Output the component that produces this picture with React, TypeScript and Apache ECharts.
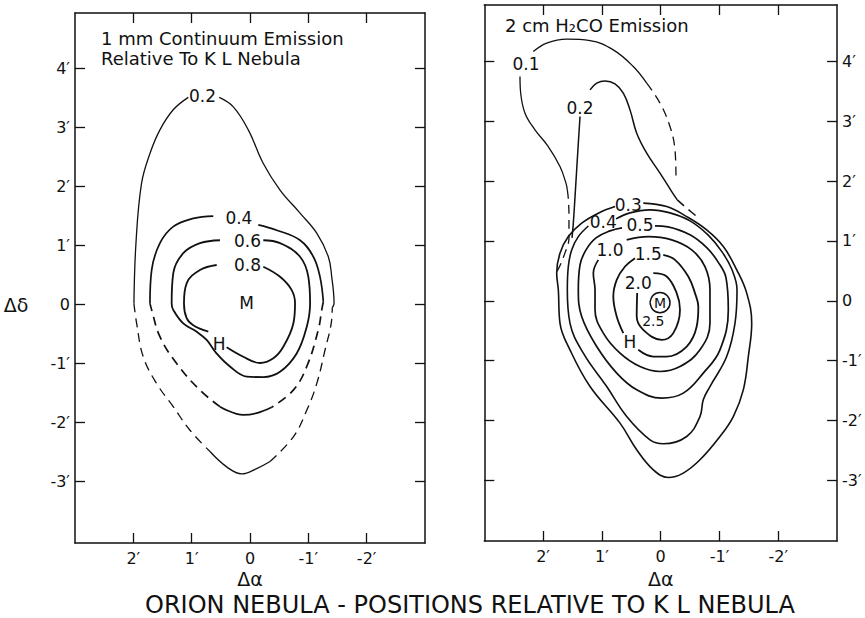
import React, { useEffect, useRef } from "react";
import * as echarts from "echarts";

// ---------- axis ticks ----------
const xTicks = [-2, -1, 0, 1, 2];
const yTicks = [-3, -2, -1, 0, 1, 2, 3, 4];

// ---------- LEFT PANEL: 1 mm continuum contours (arcmin offsets) ----------
const L02_topA = [[1.99, 0.02], [1.955, 1.04], [1.86, 2.05], [1.715, 2.56], [1.544, 2.96], [1.316, 3.3], [1.058, 3.51]];
const L02_topB = [[0.527, 3.51], [0.286, 3.35], [0.029, 2.96], [-0.228, 2.39], [-0.515, 1.94], [-0.858, 1.55], [-1.144, 1.21], [-1.343, 0.81], [-1.401, 0.47], [-1.441, 0.02], [-1.41, -0.05]];
const L02_dashL = [[1.99, 0.02], [1.943, -0.32], [1.83, -0.885], [1.6, -1.34], [1.316, -1.73], [1.029, -2.13], [0.686, -2.49]];
const L02_bottom = [[0.686, -2.49], [0.4, -2.75], [0.142, -2.87], [-0.115, -2.78], [-0.343, -2.66]];
const L02_dashR = [[-0.343, -2.66], [-0.743, -2.24], [-0.973, -1.79], [-1.144, -1.34], [-1.286, -0.77], [-1.4, -0.26], [-1.41, -0.05]];

const L04_topA = [[1.715, 0.02], [1.686, 0.585], [1.544, 1.04], [1.316, 1.32], [0.973, 1.46], [0.63, 1.5]];
const L04_topB = [[-0.142, 1.35], [-0.458, 1.26], [-0.858, 1.09], [-1.086, 0.81], [-1.2, 0.47], [-1.257, 0.05]];
const L04_dashR = [[-1.257, 0.05], [-1.23, -0.09], [-1.17, -0.43], [-0.973, -1.05], [-0.743, -1.45], [-0.372, -1.74]];
const L04_bottom = [[-0.372, -1.74], [-0.115, -1.84], [0.115, -1.87], [0.515, -1.73]];
const L04_dashL = [[0.515, -1.73], [0.858, -1.45], [1.257, -1.0], [1.544, -0.545], [1.686, -0.09], [1.715, 0.02]];

const L06 = [[-0.228, 1.09], [-0.515, 1.04], [-0.858, 0.81], [-1.0, 0.47], [-1.03, 0.02], [-0.973, -0.375], [-0.8, -0.83], [-0.515, -1.14], [-0.228, -1.23], [0.057, -1.22], [0.343, -1.05], [0.571, -0.83], [0.743, -0.6], [0.914, -0.46], [1.144, -0.32], [1.316, -0.09], [1.343, 0.02], [1.316, 0.53], [1.144, 0.87], [0.858, 1.04], [0.515, 1.09]];

const L08a = [[0.4, -0.725], [0.115, -0.885], [-0.172, -0.99], [-0.4, -0.91], [-0.571, -0.715], [-0.743, -0.32], [-0.772, 0.02], [-0.715, 0.245], [-0.515, 0.47], [-0.228, 0.64]];
const L08b = [[0.571, 0.67], [0.858, 0.585], [1.086, 0.36], [1.132, 0.02], [1.086, -0.23], [0.973, -0.35], [0.715, -0.46]];

const leftLabels: [number, number, string][] = [
  [0.815, 3.53, "0.2"],
  [0.19, 1.46, "0.4"],
  [0.043, 1.08, "0.6"],
  [0.043, 0.67, "0.8"],
  [0.057, 0.03, "M"],
  [0.527, -0.66, "H"],
];

// ---------- RIGHT PANEL: 2 cm H2CO contours ----------
const R01_arc = [[2.167, 4.162], [1.939, 4.302], [1.599, 4.369], [1.202, 4.346], [0.806, 4.19], [0.466, 3.912], [0.238, 3.634]];
const R01_arcDash = [[0.238, 3.634], [0.012, 3.301], [-0.158, 2.91], [-0.243, 2.521], [-0.26, 2.075]];
const R01_left = [[2.393, 3.745], [2.381, 3.467], [2.308, 3.134], [2.138, 2.855], [1.912, 2.576], [1.713, 2.242], [1.611, 1.965], [1.588, 1.853]];
const R01_leftDash = [[1.588, 1.853], [1.571, 1.703], [1.56, 1.402], [1.56, 1.052], [1.628, 0.801], [1.747, 0.518], [1.798, 0.462]];

const R02_left = [[1.372, 3.077], [1.401, 2.633], [1.429, 2.187], [1.457, 1.741], [1.486, 1.297], [1.508, 1.052]];
const R02_arc = [[1.202, 3.523], [1.088, 3.634], [0.947, 3.673], [0.777, 3.623], [0.636, 3.467], [0.522, 3.189], [0.408, 2.8], [0.238, 2.466], [0.012, 2.132], [-0.187, 1.825], [-0.282, 1.686]];
const R02_arcDash = [[-0.282, 1.686], [-0.442, 1.548], [-0.668, 1.364]];

const R03 = [[0.296, 1.631], [-0.102, 1.574], [-0.442, 1.407], [-0.782, 1.185], [-1.065, 0.907], [-1.293, 0.518], [-1.463, 0.129], [-1.548, -0.372], [-1.49, -0.93], [-1.405, -1.486], [-1.235, -1.932], [-1.008, -2.265], [-0.668, -2.654], [-0.384, -2.876], [-0.129, -2.95], [0.126, -2.821], [0.408, -2.487], [0.692, -2.042], [1.202, -1.431], [1.543, -0.818], [1.713, -0.372], [1.741, 0.184], [1.769, 0.462], [1.713, 0.796], [1.571, 1.073], [1.344, 1.297], [1.061, 1.464], [0.777, 1.574]];

const R04 = [[0.76, 1.369], [0.522, 1.469], [0.182, 1.519], [-0.158, 1.469], [-0.498, 1.336], [-0.804, 1.102], [-1.043, 0.818], [-1.213, 0.518], [-1.298, 0.184], [-1.264, -0.372], [-1.122, -0.93], [-0.838, -1.431], [-0.724, -1.653], [-0.668, -1.932], [-0.442, -2.265], [-0.044, -2.387], [0.182, -2.321], [0.578, -1.932], [0.918, -1.431], [1.316, -0.873], [1.543, -0.372], [1.588, 0.184], [1.571, 0.573], [1.514, 0.851], [1.401, 1.073], [1.23, 1.25]];

const R05 = [[0.097, 1.252], [-0.124, 1.235], [-0.498, 1.102], [-0.787, 0.885], [-0.974, 0.651], [-1.111, 0.384], [-1.15, -0.15], [-1.008, -0.818], [-0.724, -1.207], [-0.384, -1.541], [-0.017, -1.624], [0.408, -1.486], [0.748, -1.207], [1.088, -0.763], [1.344, -0.262], [1.401, 0.184], [1.372, 0.601], [1.27, 0.851], [1.1, 1.052], [0.862, 1.169], [0.658, 1.219]];

const R10 = [[0.578, 1.018], [0.211, 1.073], [-0.187, 1.018], [-0.527, 0.851], [-0.753, 0.573], [-0.838, 0.184], [-0.838, -0.372], [-0.668, -0.818], [-0.328, -1.097], [0.012, -1.18], [0.352, -1.097], [0.692, -0.873], [0.976, -0.539], [1.117, -0.15], [1.117, 0.184], [1.146, 0.462], [1.061, 0.684]];

const R15a = [[-0.044, 0.768], [-0.243, 0.684], [-0.469, 0.406], [-0.583, 0.129], [-0.64, -0.1], [-0.612, -0.429], [-0.442, -0.763], [-0.102, -0.93], [0.126, -0.93], [0.381, -0.818]];
const R15b = [[0.636, -0.539], [0.748, -0.262], [0.806, 0.072], [0.748, 0.351], [0.607, 0.573], [0.437, 0.713]];

const R20 = [[0.126, 0.462], [-0.102, 0.406], [-0.272, 0.129], [-0.328, -0.15], [-0.214, -0.539], [-0.017, -0.651], [0.296, -0.484], [0.408, -0.262], [0.4, 0.13]];

const R25 = [[0.182, -0.03], [0.132, 0.09], [0.012, 0.14], [-0.108, 0.09], [-0.158, -0.03], [-0.108, -0.15], [0.012, -0.2], [0.132, -0.15], [0.182, -0.03]];

const rightLabels: [number, number, string][] = [
  [2.29, 3.957, "0.1"],
  [1.372, 3.217, "0.2"],
  [0.551, 1.603, "0.3"],
  [0.976, 1.324, "0.4"],
  [0.352, 1.269, "0.5"],
  [0.862, 0.851, "1.0"],
  [0.211, 0.785, "1.5"],
  [0.381, 0.295, "2.0"],
  [0.522, -0.679, "H"],
];
// small labels at the peak (inside / under the 2.5 ring)
const rightPeakLabels: [number, number, string][] = [
  [0.012, -0.03, "M"],
  [0.126, -0.33, "2.5"],
];

// ---------- texts ----------
const FONT = "'DejaVu Sans', sans-serif";
const INK = "#111111";
const leftTitle = ["1 mm Continuum Emission", "Relative To K L Nebula"];
const rightTitle = "2 cm H\u2082CO Emission";
const mainTitle = "ORION NEBULA - POSITIONS RELATIVE TO K L NEBULA";

const tickFmt = (v: number) => (v === 0 ? "0" : `${v}\u2032`);

function lineSeries(data: number[][], panel: number, width: number, dashed = false) {
  return {
    type: "line",
    xAxisIndex: panel * 2,
    yAxisIndex: panel * 2,
    data,
    smooth: 0.4,
    showSymbol: false,
    symbol: "none",
    silent: true,
    lineStyle: { color: INK, width, type: dashed ? [9, 6] : "solid", opacity: 1 },
    z: 3,
  };
}

function labelSeries(labels: [number, number, string][], panel: number, size: number) {
  return {
    type: "scatter",
    xAxisIndex: panel * 2,
    yAxisIndex: panel * 2,
    data: labels.map(([x, y, t]) => ({ value: [x, y], name: t })),
    symbolSize: 1,
    itemStyle: { color: "rgba(0,0,0,0)", opacity: 1 },
    silent: true,
    z: 5,
    labelLayout: { hideOverlap: false },
    label: {
      show: true,
      position: "inside",
      formatter: "{b}",
      color: INK,
      opacity: 1,
      textBorderWidth: 0,
      fontSize: size,
      fontFamily: FONT,
    },
  };
}

function xAxis(gridIndex: number, position: string, labels: boolean) {
  return {
    type: "value",
    gridIndex,
    position,
    min: -3,
    max: 3,
    inverse: true,
    axisLine: { show: true, onZero: false, lineStyle: { color: INK, width: 1.5 } },
    axisTick: { show: true, inside: true, length: 10, customValues: xTicks, lineStyle: { color: INK, width: 1.3 } },
    axisLabel: { show: labels, customValues: xTicks, formatter: tickFmt, color: INK, fontSize: 16, fontFamily: FONT, margin: 7 },
    splitLine: { show: false },
  };
}

function yAxis(gridIndex: number, position: string, labels: boolean, min: number, max: number) {
  return {
    type: "value",
    gridIndex,
    position,
    min,
    max,
    axisLine: { show: true, onZero: false, lineStyle: { color: INK, width: 1.5 } },
    axisTick: { show: true, inside: true, length: 10, customValues: yTicks, lineStyle: { color: INK, width: 1.3 } },
    axisLabel: { show: labels, customValues: yTicks, formatter: tickFmt, color: INK, fontSize: 16, fontFamily: FONT, margin: 5 },
    splitLine: { show: false },
  };
}

const option = {
  animation: false,
  backgroundColor: "#ffffff",
  grid: [
    { left: 75, top: 13, width: 350, height: 530 },
    { left: 484.3, top: 5, width: 352.8, height: 536 },
  ],
  xAxis: [
    xAxis(0, "bottom", true),
    xAxis(0, "top", false),
    xAxis(1, "bottom", true),
    xAxis(1, "top", false),
  ],
  yAxis: [
    yAxis(0, "left", true, -4.04, 4.94),
    yAxis(0, "right", false, -4.04, 4.94),
    yAxis(1, "left", false, -4.01, 4.94),
    yAxis(1, "right", true, -4.01, 4.94),
  ],
  graphic: [
    { type: "text", style: { x: 101, y: 38, text: leftTitle[0], font: `18px ${FONT}`, fill: INK, verticalAlign: "middle" } },
    { type: "text", style: { x: 101, y: 58, text: leftTitle[1], font: `18px ${FONT}`, fill: INK, verticalAlign: "middle" } },
    { type: "text", style: { x: 505, y: 25, text: rightTitle, font: `18px ${FONT}`, fill: INK, verticalAlign: "middle" } },
    { type: "text", style: { x: 250, y: 579, text: "\u0394\u03b1", font: `19px ${FONT}`, fill: INK, align: "center", verticalAlign: "middle" } },
    { type: "text", style: { x: 660.7, y: 579, text: "\u0394\u03b1", font: `19px ${FONT}`, fill: INK, align: "center", verticalAlign: "middle" } },
    { type: "text", style: { x: 16, y: 305, text: "\u0394\u03b4", font: `19px ${FONT}`, fill: INK, align: "center", verticalAlign: "middle" } },
    { type: "text", style: { x: 470, y: 605, text: mainTitle, font: `24px ${FONT}`, fill: INK, align: "center", verticalAlign: "middle" } },
  ],
  series: [
    lineSeries(L02_topA, 0, 1.3),
    lineSeries(L02_topB, 0, 1.3),
    lineSeries(L02_dashL, 0, 1.3, true),
    lineSeries(L02_bottom, 0, 1.3),
    lineSeries(L02_dashR, 0, 1.3, true),
    lineSeries(L04_topA, 0, 1.7),
    lineSeries(L04_topB, 0, 1.7),
    lineSeries(L04_dashR, 0, 1.7, true),
    lineSeries(L04_bottom, 0, 1.7),
    lineSeries(L04_dashL, 0, 1.7, true),
    lineSeries(L06, 0, 1.8),
    lineSeries(L08a, 0, 1.8),
    lineSeries(L08b, 0, 1.8),
    labelSeries(leftLabels, 0, 17),

    lineSeries(R01_arc, 1, 1.3),
    lineSeries(R01_arcDash, 1, 1.3, true),
    lineSeries(R01_left, 1, 1.3),
    lineSeries(R01_leftDash, 1, 1.3, true),
    lineSeries(R02_left, 1, 1.5),
    lineSeries(R02_arc, 1, 1.5),
    lineSeries(R02_arcDash, 1, 1.5, true),
    lineSeries(R03, 1, 1.6),
    lineSeries(R04, 1, 1.6),
    lineSeries(R05, 1, 1.7),
    lineSeries(R10, 1, 1.7),
    lineSeries(R15a, 1, 1.8),
    lineSeries(R15b, 1, 1.8),
    lineSeries(R20, 1, 1.8),
    lineSeries(R25, 1, 1.5),
    labelSeries(rightLabels, 1, 17),
    labelSeries(rightPeakLabels, 1, 14),
  ],
};

export default function App() {
  const ref = useRef<HTMLDivElement>(null);
  useEffect(() => {
    document.body.style.margin = "0";
    const chart = echarts.init(ref.current as HTMLDivElement, null, { renderer: "svg" });
    chart.setOption(option as any);
    return () => chart.dispose();
  }, []);
  return <div ref={ref} style={{ width: 865, height: 618 }} />;
}
